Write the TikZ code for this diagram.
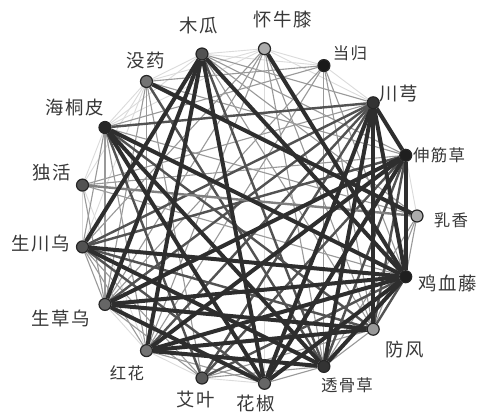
\documentclass[tikz,border=0pt]{standalone}
\usepackage{fontspec}
\newfontfamily\cjk[LetterSpace=8]{Noto Sans CJK SC}
\usetikzlibrary{backgrounds}
\begin{document}
\begin{tikzpicture}[x=0.5pt,y=-0.5pt,
  herb/.style={circle,draw=black!85,line width=0.6pt,minimum size=6pt,inner sep=0pt},
  lab/.style={font=\cjk\fontsize{9.2}{10}\selectfont,text=black!78,inner sep=0pt},
  slab/.style={font=\cjk\fontsize{8.2}{9}\selectfont,text=black!78,inner sep=0pt},
  e1/.style={line width=0.45pt,draw=black!14},
  e2/.style={line width=0.55pt,draw=black!40},
  e3/.style={line width=1.2pt,draw=black!68},
  e4/.style={line width=2pt,draw=black!82}]
\useasboundingbox (0,0) rectangle (482,414);
% herbs
\node[herb,fill=black!33] (rx) at (417.0,216.0) {};
\node[herb,fill=black!88] (sj) at (405.7,155.3) {};
\node[herb,fill=black!80] (cx) at (373.2,102.8) {};
\node[herb,fill=black!90] (dg) at (323.9,65.6) {};
\node[herb,fill=black!33] (hn) at (264.5,48.7) {};
\node[herb,fill=black!68] (mg) at (202.0,54.0) {};
\node[herb,fill=black!55] (my) at (146.5,81.5) {};
\node[herb,fill=black!85] (ht) at (105.0,127.5) {};
\node[herb,fill=black!68] (dh) at (82.5,185.1) {};
\node[herb,fill=black!68] (sc) at (82.5,246.9) {};
\node[herb,fill=black!60] (sw) at (105.0,304.4) {};
\node[herb,fill=black!55] (hh) at (146.5,350.6) {};
\node[herb,fill=black!65] (ay) at (202.0,378.0) {};
\node[herb,fill=black!60] (hj) at (264.5,383.3) {};
\node[herb,fill=black!80] (tg) at (323.9,366.4) {};
\node[herb,fill=black!40] (ff) at (373.2,329.2) {};
\node[herb,fill=black!88] (jx) at (405.7,276.7) {};
% labels
\node[lab]  (lmg) at (199,26)  {木瓜};
\node[lab]  (lhn) at (283,20)  {怀牛膝};
\node[lab]  (lmy) at (146,61)  {没药};
\node[slab] (ldg) at (350,53)  {当归};
\node[lab]  (lht) at (75,108)  {海桐皮};
\node[lab]  (lcx) at (399,94)  {川芎};
\node[slab] (lsj) at (439,155) {伸筋草};
\node[lab]  (ldh) at (52,173)  {独活};
\node[slab] (lrx) at (451,220) {乳香};
\node[lab]  (lsc) at (41,244)  {生川乌};
\node[lab]  (ljx) at (448,283) {鸡血藤};
\node[lab]  (lsw) at (61,318)  {生草乌};
\node[lab]  (lff) at (405,350) {防风};
\node[slab] (lhh) at (127,373) {红花};
\node[slab] (ltg) at (347,385) {透骨草};
\node[lab]  (lay) at (196,399) {艾叶};
\node[lab]  (lhj) at (256,404) {花椒};
\begin{pgfonlayer}{background}
\fill[white] (0,0) rectangle (482,414);
% faint
\foreach \a/\b in {dg/hn,hn/mg,hn/my,mg/my,my/ht,ht/dh,hn/hj,dg/mg,hn/cx,my/dh,dh/hh,dg/cx,rx/sj,ay/hj,sw/hh,dh/sc,hh/ay,my/sc,mg/ht,hn/ht}
  \draw[e1] (\a) -- (\b);
% light
\foreach \a/\b in {dg/tg,dg/ff,dg/jx,dg/hh,dg/sw,dg/ht,dg/my,hn/sw,hn/sc,hn/hh,hn/tg,hn/ff,my/sw,my/hh,my/ay,ht/sc,ht/sw,ht/hh,sc/hh,sc/ay,sw/ay,hj/tg,tg/ff,ff/rx,rx/jx,rx/tg,dh/sw,dh/sj,dh/jx,dh/cx,mg/ff,mg/sj,mg/rx,mg/cx,my/sj,ht/rx,ay/ff,ay/tg,sc/sw,hh/hj}
  \draw[e2] (\a) -- (\b);
% medium
\foreach \a/\b in {ht/cx,ht/ff,sc/sj,sc/cx,sw/cx,mg/tg,ay/jx,ay/sj,tg/sj,ff/jx,sc/ff,hh/cx,ay/ht,sc/hj,my/tg,ay/cx,ff/sj}
  \draw[e3] (\a) -- (\b);
\draw[e3,draw=black!50] (dh) -- (rx);
% thick
\foreach \a/\b in {my/rx,mg/jx,mg/sw,mg/hh,mg/hj,mg/sc,ht/jx,ht/tg,sc/jx,sc/tg,sw/jx,sw/ff,hh/jx,hh/sj,hh/tg,hh/ff,hj/cx,hj/sj,hj/jx,tg/cx,tg/jx,ff/cx,sj/jx,sj/cx,cx/jx,hn/jx,sw/sj,hj/ht,hj/sw}
  \draw[e4] (\a) -- (\b);
\end{pgfonlayer}
\end{tikzpicture}
\end{document}
